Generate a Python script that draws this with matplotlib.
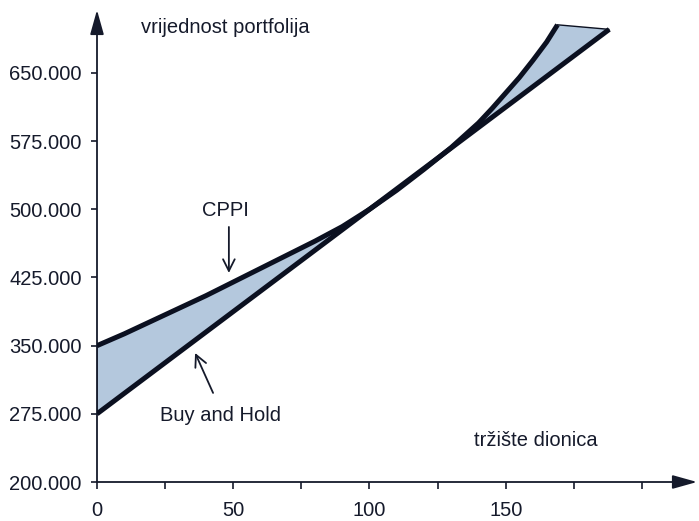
import matplotlib
matplotlib.use("Agg")
import matplotlib.pyplot as plt

# Portfolio value (in thousands) against the stock market level
market = [0, 10, 20, 30, 40, 50, 60, 70, 80, 90, 100, 110, 120, 130, 140, 145, 150, 155, 160, 165, 169]
cppi_value = [350, 363, 377, 391, 405, 420, 435, 450, 465, 481, 500, 521, 544, 568, 595, 611, 628, 645, 664, 684, 703]
bh_market = [0, 188]
bh_value = [275, 698]

y_ticks = [200, 275, 350, 425, 500, 575, 650]
y_tick_labels = ["200.000", "275.000", "350.000", "425.000", "500.000", "575.000", "650.000"]
x_ticks = [0, 25, 50, 75, 100, 125, 150, 175, 200]
x_tick_labels = ["0", "", "50", "", "100", "", "150", "", ""]

INK = "#151a2b"
LINE = "#0b1020"
FILL = "#b4c8dd"
FS = 14.5

plt.rcParams["font.family"] = ["Liberation Sans", "DejaVu Sans"]
plt.rcParams["font.size"] = FS

fig = plt.figure(figsize=(6.99, 5.21), dpi=100)
ax = fig.add_axes([97 / 699, 39 / 521, 600 / 699, 472 / 521])
ax.set_xlim(0, 220.2)
ax.set_ylim(200, 719.3)

for s in ax.spines.values():
    s.set_visible(False)

# axes drawn as arrows
arrow_kw = dict(arrowstyle="-|>,head_length=1.0,head_width=0.28", lw=1.3,
                color=INK, mutation_scale=15, shrinkA=0, shrinkB=0)
ax.annotate("", xy=(0, 1), xytext=(0, 0), xycoords="axes fraction",
            arrowprops=arrow_kw, annotation_clip=False)
ax.annotate("", xy=(1, 0), xytext=(0, 0), xycoords="axes fraction",
            arrowprops=arrow_kw, annotation_clip=False)

ax.set_yticks(y_ticks)
ax.set_yticklabels(y_tick_labels)
ax.set_xticks(x_ticks)
ax.set_xticklabels(x_tick_labels)
ax.tick_params(axis="y", direction="out", length=4, width=1.2, pad=7,
               colors=INK, labelsize=FS)
ax.tick_params(axis="x", direction="out", length=5, width=1.2, pad=9,
               colors=INK, labelsize=FS)

# shaded gap between the two strategies
ax.fill(market + bh_market[::-1], cppi_value + bh_value[::-1],
        facecolor=FILL, edgecolor=LINE, lw=1.0, zorder=2)
ax.plot(bh_market, bh_value, color=LINE, lw=3.6, solid_capstyle="butt", zorder=3)
ax.plot(market, cppi_value, color=LINE, lw=3.6, solid_capstyle="butt",
        solid_joinstyle="round", zorder=3)

# labels
ax.text(47, 699.5, "vrijednost portfolija", ha="center", va="center", color=INK, fontsize=FS)
ax.text(161, 246, "tržište dionica", ha="center", va="center", color=INK, fontsize=FS)
ax.text(47.3, 499, "CPPI", ha="center", va="center", color=INK, fontsize=FS)
ax.text(45.5, 273.7, "Buy and Hold", ha="center", va="center", color=INK, fontsize=FS)

pointer = dict(arrowstyle="->,head_length=0.7,head_width=0.35", lw=1.3,
               color=INK, shrinkA=0, shrinkB=0, mutation_scale=12)
ax.annotate("", xy=(48.4, 430), xytext=(48.4, 480.6), arrowprops=pointer)
ax.annotate("", xy=(36, 342), xytext=(42.6, 298), arrowprops=pointer)

fig.savefig("out.png", dpi=100, facecolor="white")
